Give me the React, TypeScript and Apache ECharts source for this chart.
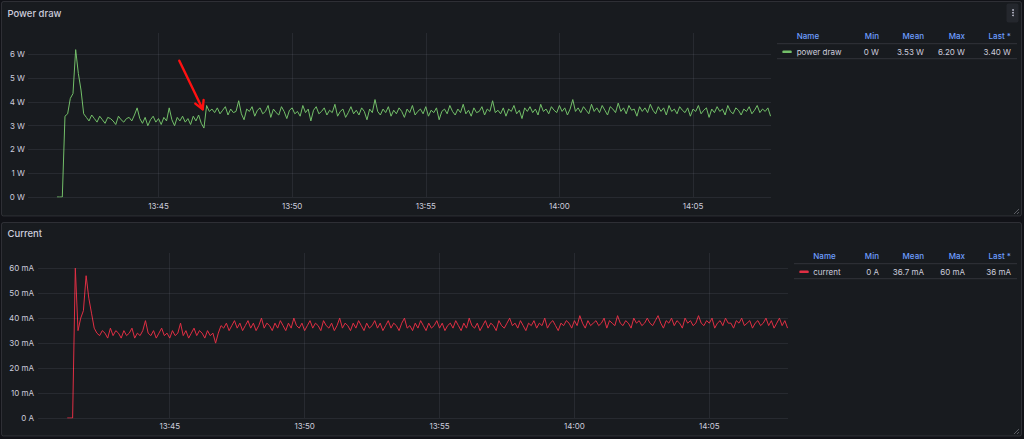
import React, { useEffect, useRef } from "react";
import * as echarts from "echarts";

// ---------- data ----------
const START_TIME = "13:41:12";
const STEP_SECONDS = 6;
const X_MIN = "13:40:07";
const X_MAX = "14:07:55";
const X_TICKS = ["13:45", "13:50", "13:55", "14:00", "14:05"];

const POWER_Y_TICKS = [0, 1, 2, 3, 4, 5, 6];
const CURRENT_Y_TICKS = [0, 10, 20, 30, 40, 50, 60];

const LEGEND_COLUMNS = ["Name", "Min", "Mean", "Max", "Last *"];
const POWER_NAME = "power draw";
const POWER_STATS = ["0 W", "3.53 W", "6.20 W", "3.40 W"];
const CURRENT_NAME = "current";
const CURRENT_STATS = ["0 A", "36.7 mA", "60 mA", "36 mA"];

// power draw in W, one reading every 6 s
const POWER_W = [
  0, 0, 0,
  3.4, 3.5, 4.15, 4.35, 6.2, 5.2, 4.5, 3.5,
  3.35, 3.2, 3.45, 3.3, 3.15, 3.4, 3.25, 3.1, 3.35, 3.3,
  3.2, 3.05, 3.4, 3.25, 3.15, 3.3, 3.35, 3.2, 3.45, 3.75,
  3.3, 3.1, 3.35, 3.0, 3.25, 3.4, 3.15, 3.3, 3.05, 3.35,
  3.2, 3.75, 3.25, 3.0, 3.35, 3.2, 3.4, 3.15, 3.3, 3.05,
  3.4, 3.2, 3.45, 3.1, 2.9,
  3.85, 3.6, 3.7, 3.55, 3.75, 3.5, 3.65, 3.8, 3.45, 3.7,
  3.55, 3.6, 4.05, 3.5, 3.25, 3.7, 3.6, 3.8, 3.4, 3.65,
  3.75, 3.5, 3.6, 3.85, 3.35, 3.7, 3.55, 3.45, 3.8, 3.6,
  3.3, 3.65, 3.75, 3.5, 3.6, 3.4, 3.85, 3.55, 3.7, 3.2,
  3.65, 3.8, 3.5, 3.6, 3.75, 3.45, 3.65, 3.55, 3.9, 3.4,
  3.6, 3.7, 3.35, 3.55, 3.8, 3.5, 3.65, 3.45, 3.75, 3.6,
  3.25, 3.7, 3.55, 4.1, 3.6, 3.45, 3.7, 3.55, 3.8, 3.4,
  3.65, 3.5, 3.75, 3.6, 3.35, 3.7, 3.55, 3.85, 3.45, 3.6,
  3.7, 3.5, 3.8, 3.4, 3.65, 3.55, 3.75, 3.25, 3.6, 3.7,
  3.5, 3.85, 3.6, 3.45, 3.7, 3.55, 3.9, 3.5, 3.65, 3.4,
  3.75, 3.55, 3.6, 3.8, 3.45, 3.7, 3.6, 4.05, 3.55, 3.65,
  3.5, 3.75, 3.4, 3.7, 3.6, 3.85, 3.5, 3.65, 3.3, 3.75,
  3.6, 3.8, 3.55, 3.7, 3.45, 3.9, 3.6, 3.7, 3.5, 3.8,
  3.65, 3.55, 3.85, 3.6, 3.75, 3.45, 3.7, 4.1, 3.6, 3.75,
  3.55, 3.8, 3.65, 3.5, 3.9, 3.6, 3.75, 3.55, 3.85, 3.65,
  3.45, 3.8, 3.7, 3.55, 3.95, 3.6, 3.75, 3.5, 3.85, 3.65,
  3.7, 3.4, 3.8, 3.6, 3.75, 3.55, 3.9, 3.65, 3.5, 3.8,
  3.6, 3.75, 3.45, 3.85, 3.6, 3.7, 3.5, 3.8, 3.65, 3.55,
  3.75, 3.4, 3.7, 3.6, 3.85, 3.5, 3.65, 3.75, 3.35, 3.7,
  3.55, 3.8, 3.6, 3.7, 3.45, 3.85, 3.6, 3.5, 3.75, 3.65,
  3.45, 3.7, 3.6, 3.8, 3.5, 3.65, 3.85, 3.55, 3.7, 3.6,
  3.75, 3.4,
];

// current in mA, one reading every 6 s
const CURRENT_MA = [
  0, 0, 0,
  60, 35, 40, 43, 57, 48, 42, 36,
  34, 33, 35, 34, 32, 36, 33, 35, 34, 32,
  35, 33, 34, 36, 32, 34, 33, 35, 39, 34,
  33, 35, 32, 34, 36, 33, 34, 32, 35, 33,
  34, 38, 33, 35, 32, 34, 36, 33, 35, 34,
  32, 35, 33, 34, 30,
  34, 37, 36, 38, 35, 37, 39, 36, 38, 35,
  37, 39, 36, 38, 35, 37, 40, 36, 38, 37,
  35, 38, 36, 39, 37, 35, 38, 36, 40, 37,
  36, 38, 35, 37, 39, 36, 38, 37, 35, 39,
  37, 36, 38, 35, 37, 40, 36, 38, 37, 35,
  38, 36, 39, 37, 35, 38, 36, 37, 39, 36,
  38, 35, 37, 39, 36, 38, 37, 35, 38, 40,
  36, 37, 35, 38, 36, 39, 37, 35, 38, 36,
  37, 39, 36, 38, 35, 37, 38, 36, 39, 37,
  35, 38, 36, 40, 37, 36, 38, 35, 37, 39,
  36, 38, 37, 35, 39, 37, 36, 38, 40, 37,
  38, 36, 39, 37, 35, 38, 37, 39, 36, 38,
  37, 40, 36, 38, 39, 37, 35, 38, 37, 39,
  38, 36, 39, 37, 41, 38, 36, 39, 37, 38,
  39, 37, 38, 40, 36, 39, 38, 37, 41, 38,
  37, 39, 38, 36, 40, 38, 39, 37, 38, 40,
  38, 37, 39, 41, 38, 36, 39, 38, 40, 37,
  39, 38, 36, 40, 38, 39, 37, 38, 41, 38,
  37, 39, 38, 40, 36, 38, 39, 37, 40, 38,
  38, 36, 39, 38, 40, 37, 38, 39, 36, 38,
  39, 37, 38, 40, 37, 39, 36, 38, 40, 37,
  39, 36,
];

// ---------- helpers ----------
const toMs = (hms: string) => {
  const [h, m, s = 0] = hms.split(":").map(Number);
  return Date.UTC(2024, 0, 1, h, m, s);
};
const fmtTime = (v: number) => {
  const d = new Date(v);
  const hh = String(d.getUTCHours()).padStart(2, "0");
  const mm = String(d.getUTCMinutes()).padStart(2, "0");
  return `${hh}:${mm}`;
};

const FONT = "Inter, 'Noto Sans', sans-serif";
const TEXT = "#ccccdc";
const GRID = "rgba(204,204,220,0.09)";
const BORDER = "rgba(204,204,220,0.14)";
const PANEL_BG = "#181b1f";
const PAGE_BG = "#111217";
const BLUE = "#6e9fff";
const GREEN = "#73bf69";
const RED = "#e02f44";

function legendTable(
  top: number,
  lineLeft: number,
  swatchX: number,
  nameX: number,
  color: string,
  name: string,
  stats: string[]
) {
  const colRight = [879, 924, 965, 1011];
  const headerY = top;
  const rowY = top + 16;
  const els: any[] = [];
  els.push({
    type: "line",
    z: 5,
    shape: { x1: lineLeft, y1: top + 8, x2: 1017, y2: top + 8 },
    style: { stroke: BORDER, lineWidth: 1 },
  });
  els.push({
    type: "line",
    z: 5,
    shape: { x1: lineLeft, y1: top + 23, x2: 1017, y2: top + 23 },
    style: { stroke: BORDER, lineWidth: 1 },
  });
  LEGEND_COLUMNS.forEach((c, i) => {
    els.push({
      type: "text",
      z: 5,
      x: i === 0 ? nameX : colRight[i - 1],
      y: headerY,
      style: {
        text: c,
        fill: BLUE,
        font: `500 8px ${FONT}`,
        align: i === 0 ? "left" : "right",
        textAlign: i === 0 ? "left" : "right",
        verticalAlign: "middle",
        textVerticalAlign: "middle",
      },
    });
  });
  els.push({
    type: "rect",
    z: 5,
    shape: { x: swatchX, y: rowY - 1.2, width: 9.5, height: 2.6, r: 1.2 },
    style: { fill: color },
  });
  els.push({
    type: "text",
    z: 5,
    x: nameX,
    y: rowY,
    style: {
      text: name,
      fill: TEXT,
      font: `8px ${FONT}`,
      align: "left",
      textAlign: "left",
      verticalAlign: "middle",
      textVerticalAlign: "middle",
    },
  });
  stats.forEach((s, i) => {
    els.push({
      type: "text",
      z: 5,
      x: colRight[i],
      y: rowY,
      style: {
        text: s,
        fill: TEXT,
        font: `8px ${FONT}`,
        align: "right",
        textAlign: "right",
        verticalAlign: "middle",
        textVerticalAlign: "middle",
      },
    });
  });
  return els;
}

export default function App() {
  const ref = useRef<HTMLDivElement>(null);

  useEffect(() => {
    if (!ref.current) return;
    const chart = echarts.init(ref.current, undefined, { renderer: "svg" });
    const t0 = toMs(START_TIME);
    const powerData = POWER_W.map((v, i) => [t0 + i * STEP_SECONDS * 1000, v]);
    const currentData = CURRENT_MA.map((v, i) => [t0 + i * STEP_SECONDS * 1000, v]);
    const xTickMs = X_TICKS.map(toMs);

    const xAxisBase = (gridIndex: number) => ({
      type: "value",
      gridIndex,
      min: toMs(X_MIN),
      max: toMs(X_MAX),
      axisLine: { show: false },
      axisTick: { show: false },
      splitLine: { show: false },
      axisLabel: {
        customValues: xTickMs,
        formatter: (v: number) => fmtTime(v),
        color: TEXT,
        fontSize: 8,
        fontFamily: FONT,
        margin: gridIndex === 0 ? 5 : 4,
      },
    });

    const gridLines = (yTicks: number[]) => ({
      silent: true,
      symbol: "none",
      label: { show: false },
      emphasis: { disabled: true },
      lineStyle: { color: GRID, width: 1, type: "solid" },
      data: [
        ...yTicks.map((v) => ({ yAxis: v })),
        ...xTickMs.map((v) => ({ xAxis: v })),
      ],
    });

    const arrowTip = [202.7, 109.3];
    const arrowTail = [179.3, 60.7];

    chart.setOption({
      animation: false,
      backgroundColor: PAGE_BG,
      grid: [
        { left: 28, top: 33, width: 743, height: 164 },
        { left: 38, top: 253, width: 750, height: 165 },
      ],
      xAxis: [xAxisBase(0), xAxisBase(1)],
      yAxis: [
        {
          type: "value",
          gridIndex: 0,
          min: 0,
          max: 6.9,
          axisLine: { show: false },
          axisTick: { show: false },
          splitLine: { show: false },
          axisLabel: {
            customValues: POWER_Y_TICKS,
            formatter: (v: number) => `${v} W`,
            color: TEXT,
            fontSize: 8,
            fontFamily: FONT,
            margin: 3,
          },
        },
        {
          type: "value",
          gridIndex: 1,
          min: 0,
          max: 66.1,
          axisLine: { show: false },
          axisTick: { show: false },
          splitLine: { show: false },
          axisLabel: {
            customValues: CURRENT_Y_TICKS,
            formatter: (v: number) => (v === 0 ? "0 A" : `${v} mA`),
            color: TEXT,
            fontSize: 8,
            fontFamily: FONT,
            margin: 4,
          },
        },
      ],
      series: [
        {
          name: POWER_NAME,
          type: "line",
          xAxisIndex: 0,
          yAxisIndex: 0,
          data: powerData,
          showSymbol: false,
          symbol: "none",
          lineStyle: { color: GREEN, width: 1 },
          itemStyle: { color: GREEN },
          markLine: gridLines(POWER_Y_TICKS),
        },
        {
          name: CURRENT_NAME,
          type: "line",
          xAxisIndex: 1,
          yAxisIndex: 1,
          data: currentData,
          showSymbol: false,
          symbol: "none",
          lineStyle: { color: RED, width: 1 },
          itemStyle: { color: RED },
          markLine: gridLines(CURRENT_Y_TICKS),
        },
      ],
      graphic: {
        elements: [
          {
            type: "rect",
            z: -10,
            shape: { x: 1.5, y: 1.5, width: 1020, height: 214.5, r: 2 },
            style: { fill: PANEL_BG, stroke: BORDER, lineWidth: 1 },
          },
          {
            type: "rect",
            z: -10,
            shape: { x: 1.5, y: 222.5, width: 1020, height: 213.5, r: 2 },
            style: { fill: PANEL_BG, stroke: BORDER, lineWidth: 1 },
          },
          {
            type: "text",
            z: 5,
            x: 7.5,
            y: 13.3,
            style: {
              text: "Power draw",
              fill: TEXT,
              font: `500 9.5px ${FONT}`,
              verticalAlign: "middle",
              textVerticalAlign: "middle",
            },
          },
          {
            type: "text",
            z: 5,
            x: 7.5,
            y: 233.5,
            style: {
              text: "Current",
              fill: TEXT,
              font: `500 9.5px ${FONT}`,
              verticalAlign: "middle",
              textVerticalAlign: "middle",
            },
          },
          // menu button
          {
            type: "rect",
            z: 5,
            shape: { x: 1006.5, y: 3.5, width: 12, height: 19, r: 2 },
            style: { fill: "#24272d" },
          },
          { type: "circle", z: 6, shape: { cx: 1013, cy: 10, r: 0.8 }, style: { fill: TEXT } },
          { type: "circle", z: 6, shape: { cx: 1013, cy: 12.7, r: 0.8 }, style: { fill: TEXT } },
          { type: "circle", z: 6, shape: { cx: 1013, cy: 15.4, r: 0.8 }, style: { fill: TEXT } },
          // resize handles
          { type: "line", z: 5, shape: { x1: 1014, y1: 214, x2: 1019, y2: 209 }, style: { stroke: "#5a5c63", lineWidth: 1 } },
          { type: "line", z: 5, shape: { x1: 1017, y1: 214, x2: 1019, y2: 212 }, style: { stroke: "#5a5c63", lineWidth: 1 } },
          { type: "line", z: 5, shape: { x1: 1014, y1: 434, x2: 1019, y2: 429 }, style: { stroke: "#5a5c63", lineWidth: 1 } },
          { type: "line", z: 5, shape: { x1: 1017, y1: 434, x2: 1019, y2: 432 }, style: { stroke: "#5a5c63", lineWidth: 1 } },
          ...legendTable(35.7, 777, 782.3, 796.7, GREEN, POWER_NAME, POWER_STATS),
          ...legendTable(255.7, 794, 799.3, 813.3, RED, CURRENT_NAME, CURRENT_STATS),
          // red annotation arrow
          {
            type: "line",
            z: 50,
            shape: { x1: arrowTail[0], y1: arrowTail[1], x2: arrowTip[0], y2: arrowTip[1] },
            style: { stroke: "#ff1111", lineWidth: 2.4, lineCap: "round" },
          },
          {
            type: "polyline",
            z: 50,
            shape: {
              points: [
                [195.3, 103.6],
                [arrowTip[0], arrowTip[1]],
                [203.6, 100.0],
              ],
            },
            style: { stroke: "#ff1111", lineWidth: 2.4, lineCap: "round", lineJoin: "round", fill: "none" },
          },
        ],
      },
    });
    return () => chart.dispose();
  }, []);

  return (
    <div
      ref={ref}
      style={{ position: "fixed", left: 0, top: 0, width: 1024, height: 439, background: PAGE_BG }}
    />
  );
}
